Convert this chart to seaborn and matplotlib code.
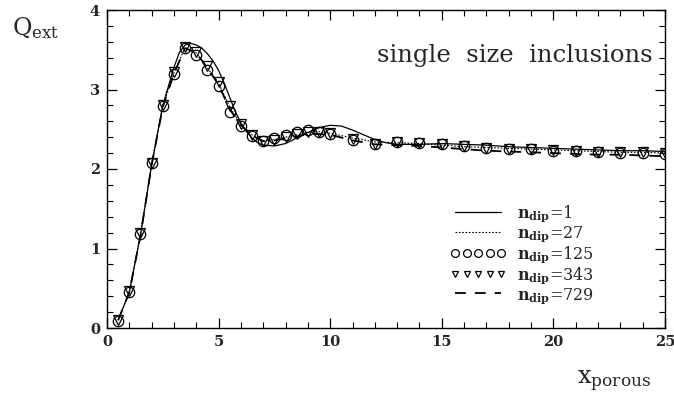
import numpy as np
import pandas as pd
import matplotlib
matplotlib.use("Agg")
import matplotlib.pyplot as plt
import seaborn as sns
from matplotlib.ticker import MultipleLocator

# ---- data ----
x_line1 = [0.5, 1, 1.5, 2, 2.5, 3, 3.25, 3.5, 3.75, 4, 4.25, 4.5, 4.75, 5, 5.25, 5.5, 5.75,
           6, 6.25, 6.5, 6.75, 7, 7.5, 8, 8.5, 9, 9.5, 10, 10.5, 11, 11.5, 12, 12.5, 13,
           14, 15, 16, 17, 18, 19, 20, 21, 22, 23, 24, 25]
q_ndip1 = [0.10, 0.45, 1.17, 2.05, 2.80, 3.28, 3.47, 3.56, 3.58, 3.56, 3.52, 3.45, 3.36, 3.24,
           3.08, 2.90, 2.72, 2.58, 2.47, 2.39, 2.33, 2.30, 2.29, 2.32, 2.39, 2.46, 2.52, 2.55,
           2.54, 2.49, 2.43, 2.37, 2.33, 2.31, 2.31, 2.32, 2.31, 2.30, 2.28, 2.27, 2.26, 2.25,
           2.24, 2.23, 2.23, 2.22]

x_pts = [0.5, 1, 1.5, 2, 2.5, 3, 3.5, 4, 4.5, 5, 5.5, 6, 6.5, 7, 7.5, 8, 8.5, 9, 9.5, 10,
         11, 12, 13, 14, 15, 16, 17, 18, 19, 20, 21, 22, 23, 24, 25]
q_ndip27 = [0.10, 0.45, 1.18, 2.07, 2.79, 3.21, 3.53, 3.46, 3.27, 3.08, 2.78, 2.56, 2.43,
            2.35, 2.37, 2.40, 2.43, 2.46, 2.47, 2.45, 2.39, 2.34, 2.33, 2.32, 2.30, 2.28,
            2.27, 2.26, 2.25, 2.24, 2.23, 2.22, 2.21, 2.21, 2.20]
q_ndip125 = [0.09, 0.45, 1.18, 2.07, 2.79, 3.20, 3.52, 3.43, 3.24, 3.04, 2.72, 2.54, 2.42,
             2.35, 2.39, 2.43, 2.46, 2.49, 2.47, 2.44, 2.36, 2.32, 2.34, 2.33, 2.31, 2.29,
             2.26, 2.25, 2.25, 2.23, 2.23, 2.22, 2.20, 2.20, 2.19]
q_ndip343 = [0.10, 0.46, 1.19, 2.08, 2.80, 3.22, 3.54, 3.47, 3.29, 3.10, 2.79, 2.57, 2.43,
             2.35, 2.37, 2.40, 2.44, 2.47, 2.47, 2.45, 2.38, 2.32, 2.34, 2.33, 2.31, 2.29,
             2.27, 2.25, 2.25, 2.24, 2.23, 2.22, 2.21, 2.21, 2.20]
q_ndip729 = [0.10, 0.45, 1.16, 2.05, 2.78, 3.20, 3.52, 3.46, 3.27, 3.06, 2.75, 2.55, 2.42,
             2.35, 2.36, 2.38, 2.41, 2.44, 2.44, 2.43, 2.36, 2.31, 2.30, 2.29, 2.27, 2.25,
             2.23, 2.22, 2.21, 2.20, 2.19, 2.18, 2.18, 2.17, 2.16]

labels = [r"$\mathbf{n_{dip}}$=1", r"$\mathbf{n_{dip}}$=27", r"$\mathbf{n_{dip}}$=125",
          r"$\mathbf{n_{dip}}$=343", r"$\mathbf{n_{dip}}$=729"]

sns.set_style("ticks")
plt.rcParams['font.family'] = ['DejaVu Serif']
plt.rcParams['mathtext.fontset'] = 'dejavuserif'

fig = plt.figure(figsize=(6.74, 3.98), dpi=100)
ax = fig.add_axes([107/674, 1 - 328/398, (665 - 107)/674, (328 - 10)/398])

sns.lineplot(x=x_line1, y=q_ndip1, ax=ax, color="black", lw=0.9, label=labels[0])
sns.lineplot(x=x_pts, y=q_ndip27, ax=ax, color="black", lw=0.8, linestyle=(0, (1.5, 1.5)),
             label=labels[1])
sns.lineplot(x=x_pts, y=q_ndip125, ax=ax, color="black", lw=0, marker="o", markersize=7.5,
             markerfacecolor="none", markeredgecolor="black", markeredgewidth=0.9,
             label=labels[2])
sns.lineplot(x=x_pts, y=q_ndip343, ax=ax, color="black", lw=0, marker="v", markersize=6.5,
             markerfacecolor="none", markeredgecolor="black", markeredgewidth=0.9,
             label=labels[3])
sns.lineplot(x=x_pts, y=q_ndip729, ax=ax, color="black", lw=1.3, linestyle=(0, (6, 5)),
             label=labels[4])

ax.set_xlim(0, 25)
ax.set_ylim(0, 4)
ax.xaxis.set_major_locator(MultipleLocator(5))
ax.xaxis.set_minor_locator(MultipleLocator(1))
ax.yaxis.set_major_locator(MultipleLocator(1))
ax.yaxis.set_minor_locator(MultipleLocator(0.2))
ax.tick_params(which="both", direction="in", top=True, right=True, color="black")
ax.tick_params(which="major", length=7, width=0.9, labelsize=10.5, pad=5)
ax.tick_params(which="minor", length=4, width=0.8)
for lab in ax.get_xticklabels() + ax.get_yticklabels():
    lab.set_fontweight("bold")
for s in ax.spines.values():
    s.set_color("black")
    s.set_linewidth(1.0)
ax.set_xlabel("")
ax.set_ylabel("")

fig.text(12/674, 1 - 28/398, r"Q$_{\mathrm{ext}}$", fontsize=17, va="center", ha="left")
fig.text(577/674, 1 - 381/398, r"x$_{\mathrm{porous}}$", fontsize=17.5, va="center", ha="left")
ax.text(0.978, 0.858, "single  size  inclusions", transform=ax.transAxes, ha="right",
        va="center", fontsize=17.5)

leg = ax.legend(loc="lower right", bbox_to_anchor=(0.885, 0.05), frameon=False, numpoints=5,
                handlelength=3.5, handletextpad=0.7, labelspacing=0.0, fontsize=11.5,
                markerscale=0.75, borderaxespad=0)

fig.savefig("out.png", dpi=100)
